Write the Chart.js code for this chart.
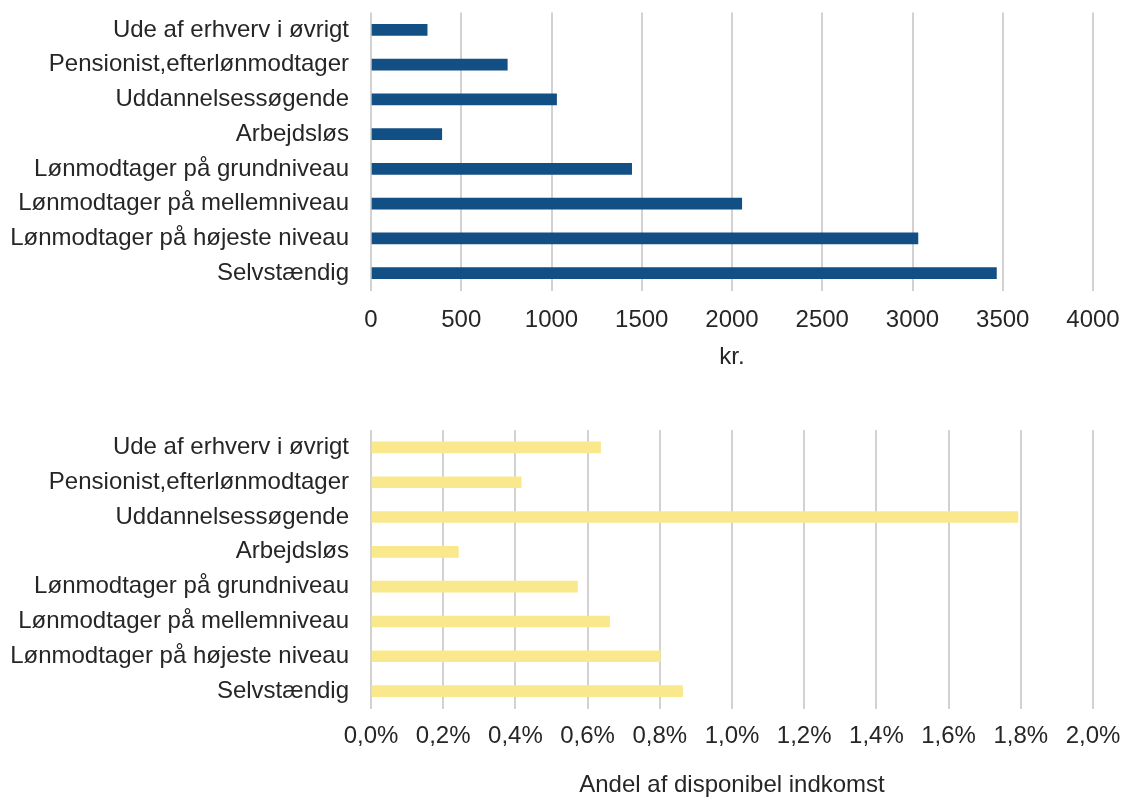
<!DOCTYPE html>
<html>
<head>
<meta charset="utf-8">
<script src="https://cdn.jsdelivr.net/npm/chart.js@4/dist/chart.umd.min.js"></script>
<style>
  html, body { margin: 0; padding: 0; background: #fff; overflow: hidden; }
  .box { position: absolute; left: 0; width: 1121px; }
  #b1 { top: 0; height: 374px; }
  #b2 { top: 400px; height: 402px; }
</style>
</head>
<body>
<div class="box" id="b1"><canvas id="c1"></canvas></div>
<div class="box" id="b2"><canvas id="c2"></canvas></div>
<script>
const categories = [
  "Ude af erhverv i øvrigt",
  "Pensionist,efterlønmodtager",
  "Uddannelsessøgende",
  "Arbejdsløs",
  "Lønmodtager på grundniveau",
  "Lønmodtager på mellemniveau",
  "Lønmodtager på højeste niveau",
  "Selvstændig"
];
const kroner = [311, 755, 1028, 392, 1444, 2054, 3030, 3465];
const andelPct = [0.636, 0.416, 1.792, 0.242, 0.572, 0.661, 0.801, 0.863];
const topAxisTitle = "kr.";
const bottomAxisTitle = "Andel af disponibel indkomst";

const FONT = "'Liberation Sans', Arial, Helvetica, sans-serif";
const TXT = '#262626';
const GRID = '#d2d2d2';

function makeChart(id, data, color, max, step, fmt, title, padTop, axisH, tickPad) {
  return new Chart(document.getElementById(id), {
    type: 'bar',
    data: {
      labels: categories,
      datasets: [{ data: data, backgroundColor: color, borderWidth: 0, barThickness: 11 }]
    },
    options: {
      indexAxis: 'y',
      responsive: true,
      maintainAspectRatio: false,
      animation: false,
      layout: { padding: { top: padTop, right: 28, left: 0, bottom: 0 } },
      plugins: { legend: { display: false }, tooltip: { enabled: false } },
      scales: {
        x: {
          min: 0, max: max,
          grid: { color: GRID, lineWidth: 2, drawTicks: false },
          border: { display: false },
          ticks: {
            stepSize: step, color: TXT, padding: tickPad, maxRotation: 0, autoSkip: false,
            font: { family: FONT, size: 24 },
            callback: fmt
          },
          title: { display: true, text: title, color: TXT, font: { family: FONT, size: 24 }, padding: { top: 0, bottom: 2 } },
          afterFit: function (s) { s.height = axisH; s.paddingLeft = 0; s.paddingRight = 0; }
        },
        y: {
          grid: { display: false, drawTicks: false },
          border: { display: false },
          ticks: { color: TXT, padding: 22, autoSkip: false, font: { family: FONT, size: 24 } },
          afterFit: function (s) { s.width = 371; s.paddingTop = 0; s.paddingBottom = 0; }
        }
      }
    }
  });
}

makeChart('c1', kroner, '#124f85', 4000, 500, function (v) { return String(v); }, topAxisTitle, 12.5, 83.5, 15);
makeChart('c2', andelPct, '#fae98c', 2.0, 0.2, function (v) { return v.toFixed(1).replace('.', ',') + '%'; }, bottomAxisTitle, 30, 93.5, 13.5);
</script>
</body>
</html>
